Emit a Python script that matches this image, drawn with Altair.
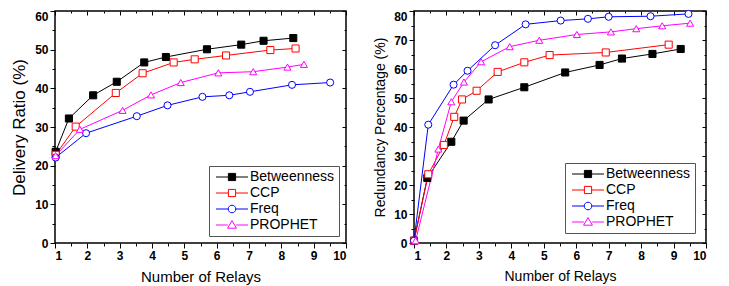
import altair as alt
import pandas as pd

FONT = "Liberation Sans"
SERIES = ["Betweenness", "CCP", "Freq", "PROPHET"]
COLORS = ["#000000", "#ff0000", "#0000ff", "#ff00ff"]
FILLS = ["#000000", "#ffffff", "#ffffff", "#ffffff"]
SHAPES = ["square", "square", "circle", "triangle-up"]
SIZES = [50, 50, 55, 70]
# legend glyphs: 1 unit = 4 px at symbolSize 64 (line + marker)
LEGEND_PATHS = [
    "M-4,0H-0.95M0.95,0H4M-0.9,-0.9H0.9V0.9H-0.9Z",
    "M-4,0H-0.95M0.95,0H4M-0.9,-0.9H0.9V0.9H-0.9Z",
    "M-4,0H-0.95M0.95,0H4M-0.95,0A0.95,0.95 0 1,0 0.95,0A0.95,0.95 0 1,0 -0.95,0Z",
    "M-4,0H-1.05M1.05,0H4M0,-1.1L1.1,0.8L-1.1,0.8Z",
]

# ---- Delivery Ratio (left panel) ----
dr_betw_x = [1.02, 1.43, 2.18, 2.91, 3.76, 4.43, 5.70, 6.76, 7.45, 8.37]
dr_betw_y = [23.6, 32.2, 38.2, 41.7, 46.7, 48.1, 50.1, 51.3, 52.3, 53.0]
dr_ccp_x = [1.02, 1.64, 2.88, 3.71, 4.67, 5.32, 6.29, 7.66, 8.44]
dr_ccp_y = [22.8, 30.1, 38.8, 43.9, 46.7, 47.5, 48.5, 49.9, 50.3]
dr_freq_x = [1.02, 1.96, 3.53, 4.48, 5.56, 6.39, 7.03, 8.33, 9.51]
dr_freq_y = [22.1, 28.4, 32.8, 35.6, 37.8, 38.2, 39.1, 40.9, 41.5]
dr_proph_x = [1.02, 1.77, 3.09, 3.97, 4.89, 6.05, 7.13, 8.19, 8.70]
dr_proph_y = [22.6, 29.4, 34.3, 38.3, 41.5, 44.0, 44.3, 45.5, 46.2]

# ---- Redundancy Percentage (right panel) ----
rp_betw_x = [1.0, 1.41, 2.15, 2.53, 3.30, 4.40, 5.66, 6.72, 7.41, 8.35, 9.22]
rp_betw_y = [0.8, 22.4, 34.9, 42.2, 49.5, 53.7, 58.8, 61.4, 63.6, 65.2, 66.9]
rp_ccp_x = [1.0, 1.44, 1.92, 2.24, 2.48, 2.93, 3.58, 4.40, 5.18, 6.91, 8.85]
rp_ccp_y = [0.8, 23.7, 33.8, 43.5, 49.5, 52.5, 59.0, 62.3, 64.8, 65.7, 68.4]
rp_freq_x = [1.0, 1.44, 2.22, 2.65, 3.50, 4.44, 5.52, 6.36, 7.00, 8.29, 9.46]
rp_freq_y = [0.8, 40.8, 54.6, 59.4, 68.2, 75.4, 76.7, 77.3, 78.0, 78.2, 79.0]
rp_proph_x = [1.05, 1.75, 2.15, 2.54, 3.07, 3.95, 4.86, 6.02, 7.07, 7.85, 8.65, 9.51]
rp_proph_y = [0.8, 32.4, 48.7, 55.5, 62.5, 67.7, 69.9, 71.9, 72.8, 73.9, 74.9, 75.8]


def make_df(pairs):
    rows = []
    for name, (xs, ys) in zip(SERIES, pairs):
        for xv, yv in zip(xs, ys):
            rows.append({"series": name, "x": xv, "y": yv})
    return pd.DataFrame(rows)


dr_df = make_df([(dr_betw_x, dr_betw_y), (dr_ccp_x, dr_ccp_y),
                 (dr_freq_x, dr_freq_y), (dr_proph_x, dr_proph_y)])
rp_df = make_df([(rp_betw_x, rp_betw_y), (rp_ccp_x, rp_ccp_y),
                 (rp_freq_x, rp_freq_y), (rp_proph_x, rp_proph_y)])

PLOT_H = 232


def panel(df, ytitle, ymax, ytitle_size, xtitle_size, lx, ly, width):
    xs = alt.Scale(domain=[1, 10], nice=False, zero=False)
    ys = alt.Scale(domain=[0, ymax], nice=False, zero=False)
    major_x = list(range(1, 11))
    minor_x = [i + 0.5 for i in range(1, 10)]
    major_y = list(range(0, ymax, 10))
    minor_y = [v + 5 for v in range(0, ymax, 10)]

    def ax(orient, values, size, offset=0, labels=False, title=None, **kw):
        return alt.Axis(orient=orient, values=values, tickSize=size, offset=offset,
                        labels=labels, title=title, domain=False, grid=False, **kw)

    line = alt.Chart(df).mark_line(strokeWidth=1).encode(
        x=alt.X("x:Q", scale=xs, axis=ax("bottom", major_x, 5, labels=True,
                                          title="Number of Relays", titleFontSize=xtitle_size,
                                          titlePadding=8, labelPadding=2)),
        y=alt.Y("y:Q", scale=ys, axis=ax("left", major_y, 5, labels=True,
                                          title=ytitle, titleFontSize=ytitle_size,
                                          titlePadding=6, labelPadding=2)),
        color=alt.Color("series:N", scale=alt.Scale(domain=SERIES, range=COLORS), legend=None),
    )
    pts = alt.Chart(df).mark_point(filled=True, strokeWidth=1, opacity=1).encode(
        x=alt.X("x:Q", scale=xs, axis=ax("bottom", minor_x, 3)),
        y=alt.Y("y:Q", scale=ys, axis=ax("left", minor_y, 3)),
        shape=alt.Shape("series:N", scale=alt.Scale(domain=SERIES, range=SHAPES), legend=None),
        fill=alt.Fill("series:N", scale=alt.Scale(domain=SERIES, range=FILLS), legend=None),
        stroke=alt.Stroke("series:N", scale=alt.Scale(domain=SERIES, range=COLORS), legend=None),
        size=alt.Size("series:N", scale=alt.Scale(domain=SERIES, range=SIZES), legend=None),
    )
    leg_df = pd.DataFrame({"series": SERIES, "x": [-5.0] * 4, "y": [0.0] * 4})
    L = alt.Legend(orient="none", legendX=lx, legendY=ly, title=None,
                   symbolSize=64, symbolStrokeWidth=1, labelFontSize=14,
                   labelFont=FONT, labelColor="black", strokeColor="#555555",
                   fillColor="white", padding=4, rowPadding=2, labelOffset=11,
                   symbolOffset=12)
    leg = alt.Chart(leg_df).mark_point(filled=True, clip=True, size=64,
                                        strokeWidth=1, opacity=1).encode(
        x=alt.X("x:Q", scale=xs, axis=ax("top", major_x, 4, offset=-4)),
        y=alt.Y("y:Q", scale=ys, axis=ax("right", major_y + [ymax], 4, offset=-4)),
        shape=alt.Shape("series:N", scale=alt.Scale(domain=SERIES, range=LEGEND_PATHS), legend=L),
        fill=alt.Fill("series:N", scale=alt.Scale(domain=SERIES, range=FILLS), legend=L),
        stroke=alt.Stroke("series:N", scale=alt.Scale(domain=SERIES, range=COLORS), legend=L),
    )
    ax2 = alt.Chart(leg_df).mark_point(clip=True, opacity=0).encode(
        x=alt.X("x:Q", scale=xs, axis=ax("top", minor_x, 2, offset=-2)),
        y=alt.Y("y:Q", scale=ys, axis=ax("right", minor_y, 2, offset=-2)),
    )
    ax3 = alt.Chart(leg_df).mark_point(clip=True, opacity=0).encode(
        x=alt.X("x:Q", scale=xs, axis=None),
        y=alt.Y("y:Q", scale=ys, axis=ax("left", [ymax], 5, labels=True,
                                          labelBaseline="top", labelPadding=2)),
    )
    return alt.layer(line, pts, leg, ax2, ax3).resolve_axis(
        x="independent", y="independent"
    ).resolve_scale(
        shape="independent", fill="independent", stroke="independent", size="independent"
    ).properties(width=width, height=PLOT_H)


left = panel(dr_df, "Delivery Ratio (%)", 60, 17, 15, 154, 155, 291)
right = panel(rp_df, "Redundancy Percentage (%)", 80, 14, 14, 151, 152, 292)

chart = alt.hconcat(left, right, spacing=24).resolve_scale(
    color="independent", shape="independent", fill="independent",
    stroke="independent", size="independent"
).resolve_legend(
    shape="independent", fill="independent", stroke="independent"
).properties(
    padding={"left": 1, "top": -1, "right": 0, "bottom": 0}
).configure_view(
    stroke="black", strokeWidth=1.5
).configure_axis(
    labelFont=FONT, titleFont=FONT, labelFontSize=12, labelFontWeight="bold",
    labelColor="black", titleColor="black", titleFontWeight="normal",
    tickColor="black", tickWidth=1
)

chart.save("out.html", embed_options={"renderer": "svg", "actions": False})
